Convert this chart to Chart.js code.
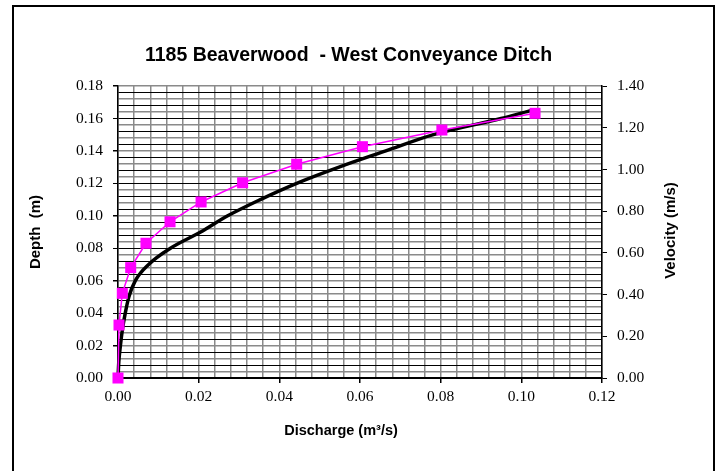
<!DOCTYPE html>
<html>
<head>
<meta charset="utf-8">
<title>1185 Beaverwood - West Conveyance Ditch</title>
<script src="https://cdn.jsdelivr.net/npm/chart.js@4.4.1/dist/chart.umd.min.js"></script>
<style>
  html, body { margin: 0; padding: 0; background: #fff; }
  #wrap { position: relative; width: 723px; height: 471px; overflow: hidden; }
  #frame { position: absolute; left: 12px; top: 5px; width: 703px; height: 480px; border: 2px solid #000; box-sizing: border-box; }
  canvas { position: absolute; left: 0; top: 0; }
</style>
</head>
<body>
<div id="wrap">
  <div id="frame"></div>
  <canvas id="chart" width="723" height="471"></canvas>
</div>
<script>
const chartTitle = '1185 Beaverwood  - West Conveyance Ditch';

// black curve: depth (m) against discharge (m3/s)
const curveDischarge = [0, 0.0002, 0.0006, 0.0011, 0.0018, 0.0027, 0.0043, 0.0076, 0.0130, 0.0205, 0.0272, 0.0353, 0.0443, 0.0548, 0.0664, 0.0782, 0.0950, 0.1025];
const curveDepth     = [0, 0.010, 0.020, 0.030, 0.040, 0.050, 0.060, 0.070, 0.080, 0.090, 0.100, 0.110, 0.120, 0.130, 0.140, 0.150, 0.160, 0.165];

// magenta markers: velocity (m/s) against discharge (m3/s)
const pointDischarge = [0, 0.00025, 0.00107, 0.00315, 0.00694, 0.0129, 0.0206, 0.0309, 0.0443, 0.0606, 0.0803, 0.1034];
const pointVelocity  = [0, 0.254, 0.406, 0.529, 0.646, 0.749, 0.844, 0.936, 1.025, 1.109, 1.189, 1.269];

const xTickLabels = ['0.00', '0.02', '0.04', '0.06', '0.08', '0.10', '0.12'];
const depthTickLabels = ['0.00', '0.02', '0.04', '0.06', '0.08', '0.10', '0.12', '0.14', '0.16', '0.18'];
const velocityTickLabels = ['0.00', '0.20', '0.40', '0.60', '0.80', '1.00', '1.20', '1.40'];

const sans = '"Liberation Sans", Arial, sans-serif';
const serif = '"Liberation Serif", "Times New Roman", serif';
const tickFont = { family: serif, size: 15.5 };
const gray = '#8a8a8a';
const none = 'rgba(0,0,0,0)';

// titles that Chart.js can't place like Excel did
const textPlugin = {
    id: 'excelTexts',
    afterDraw(chart) {
        const { ctx, chartArea } = chart;
        const cx = (chartArea.left + chartArea.right) / 2;
        const cy = (chartArea.top + chartArea.bottom) / 2;
        ctx.save();
        ctx.fillStyle = '#000';
        ctx.textAlign = 'center';
        ctx.textBaseline = 'middle';
        ctx.font = 'bold 19.5px ' + sans;
        ctx.fillText(chartTitle, cx - 11.5, chartArea.top - 30.5);
        ctx.font = 'bold 14.5px ' + sans;
        ctx.fillText('Discharge (m³/s)', cx - 19, chartArea.bottom + 52.5);
        ctx.translate(chartArea.right + 68.5, cy - 1.5);
        ctx.rotate(-Math.PI / 2);
        ctx.font = 'bold 15px ' + sans;
        ctx.fillText('Velocity (m/s)', 0, 0);
        ctx.restore();
    }
};

const ctx = document.getElementById('chart').getContext('2d');
const chart = new Chart(ctx, {
    type: 'scatter',
    data: {
        datasets: [{
            label: 'Velocity',
            data: pointDischarge.map((q, i) => ({ x: q, y: pointVelocity[i] })),
            yAxisID: 'y1',
            showLine: true,
            borderColor: '#ff00ff',
            backgroundColor: '#ff00ff',
            borderWidth: 1.5,
            pointStyle: 'rect',
            pointRadius: 7.8,
            pointBorderWidth: 0,
            tension: 0,
            clip: false,
            order: 0
        }, {
            label: 'Depth',
            data: curveDischarge.map((q, i) => ({ x: q, y: curveDepth[i] })),
            yAxisID: 'y',
            showLine: true,
            borderColor: '#000',
            borderWidth: 3.5,
            pointRadius: 0,
            cubicInterpolationMode: 'monotone',
            clip: false,
            order: 1
        }]
    },
    options: {
        responsive: false,
        devicePixelRatio: 1,
        animation: false,
        events: [],
        layout: { padding: { top: 86, left: 0, right: 0, bottom: 0 } },
        plugins: {
            legend: { display: false },
            tooltip: { enabled: false },
            title: { display: false }
        },
        scales: {
            x: {
                type: 'linear',
                min: 0,
                max: 0.12,
                afterFit: s => { s.height = 93; },
                border: { color: '#000', width: 1.5 },
                grid: {
                    color: gray,
                    lineWidth: 1.5,
                    tickLength: 5,
                    tickColor: c => c.index % 5 === 0 ? '#000' : none
                },
                ticks: {
                    stepSize: 0.004,
                    autoSkip: false,
                    maxRotation: 0,
                    padding: 5,
                    color: '#000',
                    font: tickFont,
                    callback: (v, i) => i % 5 === 0 ? xTickLabels[i / 5] : ''
                }
            },
            y: {
                type: 'linear',
                position: 'left',
                min: 0,
                max: 0.18,
                afterFit: s => { s.width = 118; },
                border: { color: '#000', width: 1.5 },
                grid: {
                    color: c => c.index % 2 === 0 ? '#000' : gray,
                    lineWidth: c => c.index % 2 === 0 ? 1 : 1.5,
                    tickLength: 5,
                    tickColor: c => c.index % 5 === 0 ? '#000' : none
                },
                ticks: {
                    stepSize: 0.004,
                    autoSkip: false,
                    padding: 10,
                    color: '#000',
                    font: tickFont,
                    callback: (v, i) => i % 5 === 0 ? depthTickLabels[i / 5] : ''
                },
                title: {
                    display: true,
                    text: 'Depth  (m)',
                    color: '#000',
                    font: { family: sans, size: 15, weight: 'bold' },
                    padding: { top: 27, bottom: 0 }
                }
            },
            y1: {
                type: 'linear',
                position: 'right',
                min: 0,
                max: 1.4,
                afterFit: s => { s.width = 121; },
                border: { color: '#000', width: 1.5 },
                grid: { drawOnChartArea: false, tickLength: 5, tickColor: '#000' },
                ticks: {
                    stepSize: 0.2,
                    autoSkip: false,
                    padding: 10,
                    color: '#000',
                    font: tickFont,
                    callback: (v, i) => velocityTickLabels[i]
                }
            }
        }
    },
    plugins: [textPlugin]
});
</script>
</body>
</html>
